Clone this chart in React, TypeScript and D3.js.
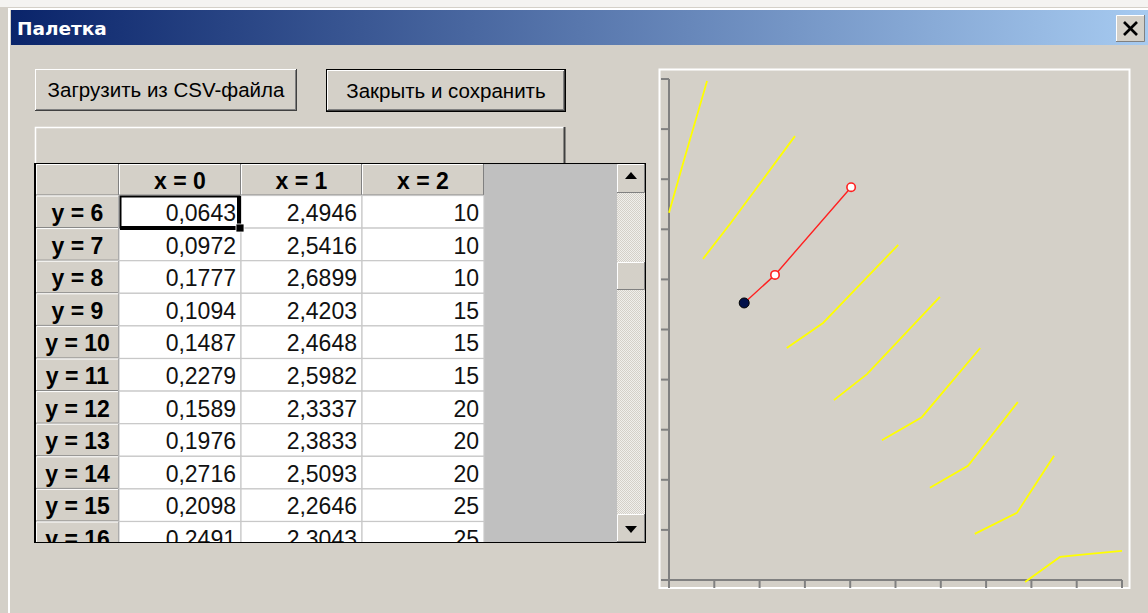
import React from 'react';
import * as d3 from 'd3';

// table contents
const rowLabels = ['y = 6', 'y = 7', 'y = 8', 'y = 9', 'y = 10', 'y = 11', 'y = 12', 'y = 13', 'y = 14', 'y = 15', 'y = 16'];
const colLabels = ['x = 0', 'x = 1', 'x = 2'];
const col0 = ['0,0643', '0,0972', '0,1777', '0,1094', '0,1487', '0,2279', '0,1589', '0,1976', '0,2716', '0,2098', '0,2491'];
const col1 = ['2,4946', '2,5416', '2,6899', '2,4203', '2,4648', '2,5982', '2,3337', '2,3833', '2,5093', '2,2646', '2,3043'];
const col2 = ['10', '10', '10', '15', '15', '15', '20', '20', '20', '25', '25'];

// palette curves (chart units, 0..10 on both axes)
const curve1: [number, number][] = [[0, 7.33], [0.33, 8.38], [0.84, 9.96]];
const curve2: [number, number][] = [[0.75, 6.41], [1.35, 7.11], [2.78, 8.86]];
const curve3: [number, number][] = [[2.6, 4.63], [3.4, 5.13], [3.89, 5.59], [5.06, 6.69]];
const curve4: [number, number][] = [[3.64, 3.59], [4.37, 4.11], [5.98, 5.65]];
const curve5: [number, number][] = [[4.7, 2.79], [5.58, 3.25], [6.87, 4.63]];
const curve6: [number, number][] = [[5.76, 1.84], [6.6, 2.28], [7.7, 3.55]];
const curve7: [number, number][] = [[6.75, 0.92], [7.68, 1.34], [8.5, 2.48]];
const curve8: [number, number][] = [[7.86, -0.04], [8.63, 0.46], [9.29, 0.52], [10, 0.58]];
const redLine: [number, number][] = [[1.66, 5.53], [2.34, 6.09], [4.02, 7.84]];
const axisTicks = [0, 1, 2, 3, 4, 5, 6, 7, 8, 9, 10];

const BG = '#d4d0c8';
const FONT = '"Liberation Sans", Arial, sans-serif';

const Button = ({ x, y, w, h, label, isDefault }: { x: number; y: number; w: number; h: number; label: string; isDefault?: boolean }) => {
  const o = isDefault ? 1 : 0;
  return (
    <g>
      {isDefault && <rect x={x} y={y} width={w} height={h} fill="#000" />}
      <rect x={x + o} y={y + o} width={w - 2 * o} height={h - 2 * o} fill="#404040" />
      <rect x={x + o} y={y + o} width={w - 2 * o - 1} height={h - 2 * o - 1} fill="#fff" />
      <rect x={x + o + 1} y={y + o + 1} width={w - 2 * o - 2} height={h - 2 * o - 2} fill="#808080" />
      <rect x={x + o + 1} y={y + o + 1} width={w - 2 * o - 3} height={h - 2 * o - 3} fill={BG} />
      <text x={x + w / 2} y={y + h / 2 + 7} textAnchor="middle" fontFamily={FONT} fontSize={20.5} fill="#000">{label}</text>
    </g>
  );
};

const Bevel = ({ x, y, w, h }: { x: number; y: number; w: number; h: number }) => (
  <g>
    <rect x={x} y={y} width={w} height={h} fill={BG} />
    <path d={`M${x + 0.5},${y + h}V${y + 0.5}H${x + w}`} stroke="#fff" fill="none" />
    <path d={`M${x},${y + h - 0.5}H${x + w - 0.5}V${y}`} stroke="#808080" fill="none" />
  </g>
);

export default function App() {
  const x = d3.scaleLinear().domain([0, 10]).range([669, 1122]);
  const y = d3.scaleLinear().domain([0, 10]).range([580, 79]);
  const line = d3.line<[number, number]>().x(d => x(d[0])).y(d => y(d[1]));
  const curves = [curve1, curve2, curve3, curve4, curve5, curve6, curve7, curve8];

  // table geometry
  const colEdges = [36, 119, 241, 362, 484];
  const headerTop = 164;
  const headerBottom = 195.5;
  const rowH = 32.6;
  const rowY = d3.scaleLinear().domain([0, 1]).range([headerBottom, headerBottom + rowH]);
  const columns = [col0, col1, col2];

  return (
    <div style={{ position: 'fixed', left: 0, top: 0 }}>
      <svg width={1148} height={613} style={{ display: 'block' }}>
        <defs>
          <linearGradient id="title" x1="0" x2="1" y1="0" y2="0">
            <stop offset="0" stopColor="#0a246a" />
            <stop offset="1" stopColor="#a6caf0" />
          </linearGradient>
          <pattern id="dither" width={2} height={2} patternUnits="userSpaceOnUse">
            <rect width={2} height={2} fill="#f0efec" />
            <rect width={1} height={1} fill="#d4d0c8" />
            <rect x={1} y={1} width={1} height={1} fill="#d4d0c8" />
          </pattern>
          <clipPath id="tableClip">
            <rect x={36} y={164} width={581} height={378} />
          </clipPath>
        </defs>

        {/* window frame */}
        <rect width={1148} height={613} fill={BG} />
        <rect width={1148} height={7} fill="#f4f3f1" />
        <rect x={8} y={8} width={2} height={605} fill="#fff" />
        <rect x={8} y={8} width={1140} height={2} fill="#fff" />

        {/* title bar */}
        <rect x={11} y={10} width={1137} height={35} fill="url(#title)" />
        <text x={17} y={35} fontFamily='"DejaVu Sans", Verdana, sans-serif' fontWeight="bold" fontSize={18.5} fill="#fff">Палетка</text>
        <Bevel x={1116} y={15} w={29} h={27} />
        <g stroke="#000" strokeWidth={2.6}>
          <line x1={1124} y1={22} x2={1137} y2={35} />
          <line x1={1137} y1={22} x2={1124} y2={35} />
        </g>

        {/* buttons */}
        <Button x={35} y={69} w={262} h={42} label="Загрузить из CSV-файла" />
        <Button x={326} y={69} w={240} h={43} label="Закрыть и сохранить" isDefault />

        {/* panel above the grid */}
        <rect x={35} y={127} width={530} height={37} fill={BG} />
        <path d="M35.5,164V127.5H564" stroke="#fff" strokeWidth={1.5} fill="none" />
        <path d="M564.5,127V164" stroke="#404040" strokeWidth={2} fill="none" />

        {/* grid */}
        <rect x={34} y={163} width={612} height={380} fill="#000" />
        <rect x={36} y={164} width={581} height={378} fill="#c0c0c0" />
        <g clipPath="url(#tableClip)">
          <Bevel x={colEdges[0]} y={headerTop} w={colEdges[1] - colEdges[0]} h={headerBottom - headerTop} />
          {colLabels.map((c, i) => (
            <g key={c}>
              <Bevel x={colEdges[i + 1]} y={headerTop} w={colEdges[i + 2] - colEdges[i + 1]} h={headerBottom - headerTop} />
              <text x={(colEdges[i + 1] + colEdges[i + 2]) / 2} y={headerTop + 25} textAnchor="middle" fontFamily={FONT} fontWeight="bold" fontSize={23} fill="#000">{c}</text>
            </g>
          ))}
          {rowLabels.map((r, ri) => {
            const top = rowY(ri);
            return (
              <g key={r}>
                <Bevel x={colEdges[0]} y={top} w={colEdges[1] - colEdges[0]} h={rowH} />
                <text x={(colEdges[0] + colEdges[1]) / 2} y={top + 25.5} textAnchor="middle" fontFamily={FONT} fontWeight="bold" fontSize={23} fill="#000">{r}</text>
                {columns.map((col, ci) => (
                  <g key={ci}>
                    <rect x={colEdges[ci + 1]} y={top} width={colEdges[ci + 2] - colEdges[ci + 1]} height={rowH} fill="#fff" stroke="#c8c8c8" strokeWidth={1.2} />
                    <text x={colEdges[ci + 2] - 5} y={top + 25.5} textAnchor="end" fontFamily={FONT} fontSize={23} fill="#111">{col[ri]}</text>
                  </g>
                ))}
              </g>
            );
          })}
          {/* current cell */}
          <rect x={120.5} y={196.5} width={119} height={31} fill="none" stroke="#000" strokeWidth={2} />
          <rect x={237} y={196} width={4} height={33} fill="#000" />
          <rect x={120} y={226} width={121} height={4} fill="#000" />
          <rect x={236} y={224} width={8} height={8} fill="#000" stroke="#fff" strokeWidth={0.8} />
        </g>

        {/* scrollbar */}
        <rect x={617} y={164} width={28} height={378} fill="url(#dither)" />
        <Bevel x={617} y={164} w={28} h={29} />
        <path d="M631,172 l-6,7 h12 z" fill="#000" />
        <Bevel x={617} y={262} w={28} h={28} />
        <Bevel x={617} y={514} w={28} h={28} />
        <path d="M631,533 l-6,-7 h12 z" fill="#000" />

        {/* chart panel */}
        <rect x={659.5} y={69.5} width={470} height={518.5} fill={BG} stroke="#fff" strokeWidth={2} />
        <g stroke="#808080" strokeWidth={2} fill="none">
          <line x1={x(0)} y1={y(10)} x2={x(0)} y2={y(0)} />
          <line x1={x(0)} y1={y(0)} x2={x(10)} y2={y(0)} />
          {axisTicks.map(t => (
            <line key={'y' + t} x1={x(0) - 8} x2={x(0)} y1={y(t)} y2={y(t)} />
          ))}
          {axisTicks.map(t => (
            <line key={'x' + t} x1={x(t)} x2={x(t)} y1={y(0)} y2={y(0) + 8} />
          ))}
        </g>
        <g fill="none" stroke="#ffff00" strokeWidth={1.8}>
          {curves.map((c, i) => (
            <path key={i} d={line(c) || ''} />
          ))}
        </g>
        <path d={line(redLine) || ''} fill="none" stroke="#ff2020" strokeWidth={1.4} />
        {redLine.slice(1).map((p, i) => (
          <circle key={i} cx={x(p[0])} cy={y(p[1])} r={4.2} fill="#fff" stroke="#ff2020" strokeWidth={1.6} />
        ))}
        <circle cx={x(redLine[0][0])} cy={y(redLine[0][1])} r={5} fill="#00104a" stroke="#000" strokeWidth={1} />
      </svg>
    </div>
  );
}
